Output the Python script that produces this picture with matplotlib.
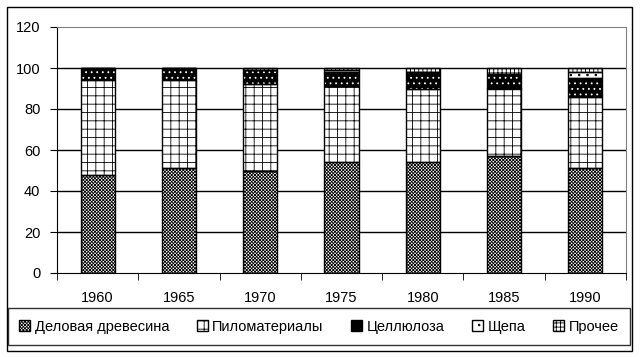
import matplotlib
matplotlib.use("Agg")
import matplotlib.pyplot as plt
from matplotlib.patches import Rectangle, Patch
import numpy as np

years = ['1960', '1965', '1970', '1975', '1980', '1985', '1990']
delovaya = [48, 51, 50, 54, 54, 57, 51]
pilomat = [46, 43, 42, 37, 36, 33, 35]
cellul = [6, 6, 7, 7, 8, 7, 9]
shchepa = [0, 0, 0, 1, 0, 0, 3]
prochee = [0, 0, 1, 1, 2, 3, 2]
names = ['Деловая древесина', 'Пиломатериалы', 'Целлюлоза', 'Щепа', 'Прочее']

plt.rcParams['font.family'] = ['Liberation Sans', 'DejaVu Sans']
plt.rcParams['font.size'] = 10.5
plt.rcParams['hatch.linewidth'] = 0.6

fig = plt.figure(figsize=(6.42, 3.57), dpi=100)
ax = fig.add_axes([57/642, 1-273/357, (626-57)/642, (273-27)/357])

x = np.arange(len(years))
w = 0.42
series = [delovaya, pilomat, cellul, shchepa, prochee]
# (face, hatch, hatch colour)
styles = [('white', 'xxxxxxxxxx', 'black'),
          ('white', '++', 'black'),
          ('black', '...', 'white'),
          ('white', '..', 'black'),
          ('white', '++++', 'black')]

bottom = np.zeros(len(years))
for vals, (fc, h, hc) in zip(series, styles):
    vals = np.array(vals, dtype=float)
    ax.bar(x, vals, w, bottom=bottom, color=fc, hatch=h, edgecolor=hc,
           linewidth=0, zorder=2)
    ax.bar(x, vals, w, bottom=bottom, fill=False, edgecolor='black',
           linewidth=1.0, zorder=3)
    bottom += vals

ax.set_xlim(-0.5, len(years) - 0.5)
ax.set_ylim(0, 120)
ax.set_yticks(range(0, 121, 20))
ax.set_xticks(x)
ax.set_xticklabels(years)
ax.tick_params(axis='x', which='major', length=0, pad=13)
ax.set_xticks(np.arange(-0.5, len(years)), minor=True)
ax.tick_params(axis='x', which='minor', length=5, direction='out', color='black')
ax.tick_params(axis='y', length=5, direction='out', pad=7)
for yv in range(20, 101, 20):
    ax.axhline(yv, color='black', linewidth=1, zorder=1)
ax.spines['top'].set_color('#808080')
ax.spines['right'].set_color('#808080')
ax.spines['left'].set_color('black')
ax.spines['bottom'].set_color('black')

handles = []
for (fc, h, hc), n in zip(styles, names):
    handles.append(Patch(facecolor=fc, hatch=h, edgecolor='black', label=n))
leg = fig.legend(handles=handles, loc='center', ncol=5,
                 bbox_to_anchor=(319/642, 1-326.5/357),
                 handlelength=0.75, handleheight=0.75, handletextpad=0.3,
                 columnspacing=1.9, fancybox=False, borderaxespad=0,
                 borderpad=0.8, fontsize=10.5)
leg.get_frame().set_edgecolor('black')
leg.get_frame().set_linewidth(1)

fig.patches.append(Rectangle((7/642, 1-351/357), 625/642, 344/357,
                             transform=fig.transFigure, fill=False,
                             edgecolor='black', linewidth=1))

fig.savefig('out.png', dpi=100)
